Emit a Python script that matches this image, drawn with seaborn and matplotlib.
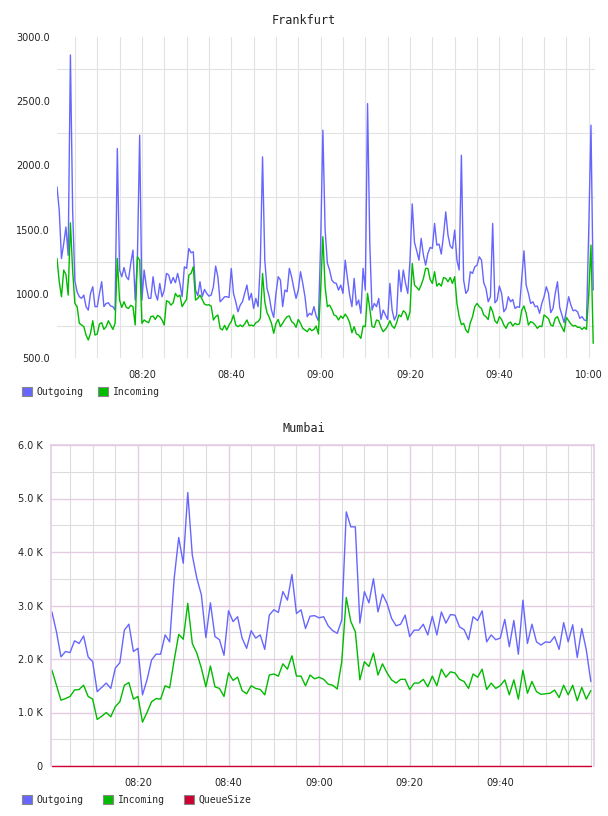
import numpy as np
import pandas as pd
import seaborn as sns
import matplotlib.pyplot as plt
from matplotlib.patches import Patch
from matplotlib.ticker import FixedLocator, MultipleLocator

# Frankfurt, one sample every 30 s starting 08:01
fra_outgoing = [
    1833, 1650, 1275, 1390, 1520, 1300, 2860, 1650, 1100, 1015,
    977, 965, 990, 900, 873, 1003, 1055, 900, 900, 1003,
    1094, 900, 925, 930, 905, 900, 873, 2131, 1185, 1133,
    1205, 1133, 1110, 1236, 1340, 951, 1288, 2235, 951, 1185,
    1055, 965, 965, 1133, 1003, 951, 1081, 977, 1029, 1159,
    1146, 1081, 1127, 1086, 1159, 1081, 977, 1210, 1198, 1353,
    1320, 1327, 1030, 985, 1094, 977, 1034, 1003, 982, 990,
    1055, 1216, 1133, 938, 956, 977, 977, 972, 1197, 1003,
    938, 860, 912, 938, 1003, 1068, 951, 1003, 886, 964,
    900, 1236, 2066, 1262, 1042, 977, 873, 816, 1003, 1133,
    1107, 900, 1029, 1016, 1198, 1133, 1042, 964, 1029, 1172,
    1081, 977, 822, 848, 835, 900, 827, 790, 1392, 2274,
    1500, 1240, 1185, 1107, 1086, 1081, 1029, 1068, 1003, 1262,
    1120, 990, 900, 1120, 912, 951, 848, 1198, 1029, 2481,
    1392, 873, 925, 900, 964, 800, 873, 835, 800, 1081,
    873, 796, 835, 1185, 1016, 1185, 1081, 1003, 1262, 1700,
    1400, 1335, 1262, 1431, 1301, 1223, 1314, 1361, 1353, 1548,
    1379, 1387, 1309, 1457, 1638, 1457, 1371, 1353, 1496, 1262,
    1185, 2079, 1107, 1003, 1029, 1172, 1159, 1210, 1223, 1288,
    1262, 1086, 1042, 938, 977, 1548, 930, 951, 1060, 1003,
    860, 886, 977, 938, 956, 886, 900, 894, 1120, 1335,
    1068, 1003, 925, 938, 900, 905, 848, 925, 977, 1055,
    1003, 853, 886, 1003, 1094, 894, 835, 775, 873, 977,
    912, 868, 873, 860, 809, 822, 796, 790, 1500, 2313,
    1029,
]
fra_incoming = [
    1275, 1094, 977, 1185, 1150, 990, 1553, 1180, 925, 900,
    770, 757, 744, 679, 640, 692, 790, 679, 687, 765,
    775, 723, 744, 790, 757, 723, 770, 1275, 951, 894,
    938, 894, 886, 910, 900, 757, 1288, 1262, 770, 796,
    783, 775, 822, 827, 800, 832, 822, 796, 757, 946,
    938, 912, 930, 1003, 977, 990, 900, 930, 956, 1146,
    1159, 1210, 951, 964, 990, 956, 920, 912, 915, 905,
    796, 822, 835, 731, 718, 754, 718, 757, 783, 835,
    757, 744, 757, 744, 765, 796, 752, 757, 749, 775,
    783, 809, 1158, 938, 853, 816, 770, 692, 770, 800,
    744, 770, 800, 822, 827, 783, 770, 739, 800, 770,
    731, 718, 705, 731, 713, 723, 749, 687, 1029, 1444,
    1055, 900, 912, 879, 835, 827, 796, 827, 809, 842,
    816, 775, 697, 744, 687, 679, 653, 749, 744, 1003,
    886, 744, 739, 796, 790, 739, 705, 723, 749, 790,
    749, 731, 775, 835, 822, 868, 853, 796, 860, 1236,
    1068, 1050, 1029, 1068, 1120, 1198, 1198, 1112, 1081, 1172,
    1060, 1081, 1060, 1127, 1120, 1094, 1127, 1081, 1133, 925,
    822, 760, 770, 718, 697, 775, 822, 900, 925, 900,
    886, 835, 822, 800, 900, 860, 790, 770, 822, 800,
    757, 731, 770, 780, 749, 770, 760, 765, 873, 905,
    848, 757, 783, 775, 757, 731, 749, 744, 835, 822,
    806, 757, 749, 809, 822, 775, 739, 705, 816, 790,
    765, 749, 754, 739, 739, 723, 739, 723, 1000, 1379,
    614,
]

# Mumbai, one sample per minute starting 08:01 (values in K)
mum_outgoing = [
    2.88, 2.51, 2.04, 2.14, 2.12, 2.34, 2.29, 2.43, 2.04, 1.95,
    1.39, 1.47, 1.55, 1.45, 1.83, 1.93, 2.54, 2.65, 2.14, 2.20,
    1.33, 1.61, 1.98, 2.09, 2.09, 2.45, 2.32, 3.51, 4.27, 3.79,
    5.11, 3.94, 3.51, 3.20, 2.40, 3.05, 2.42, 2.36, 2.07, 2.90,
    2.70, 2.79, 2.39, 2.20, 2.53, 2.39, 2.45, 2.18, 2.82, 2.92,
    2.87, 3.26, 3.10, 3.58, 2.85, 2.92, 2.57, 2.80, 2.81, 2.77,
    2.79, 2.62, 2.53, 2.48, 2.73, 4.75, 4.47, 4.47, 2.67, 3.26,
    3.05, 3.50, 2.88, 3.21, 3.04, 2.76, 2.62, 2.65, 2.82, 2.42,
    2.54, 2.54, 2.65, 2.45, 2.80, 2.45, 2.88, 2.67, 2.83, 2.82,
    2.60, 2.55, 2.36, 2.79, 2.72, 2.90, 2.32, 2.45, 2.36, 2.39,
    2.74, 2.23, 2.72, 2.09, 3.10, 2.29, 2.65, 2.32, 2.26, 2.32,
    2.31, 2.42, 2.18, 2.68, 2.32, 2.64, 2.03, 2.57, 2.17, 1.58,
]
mum_incoming = [
    1.79, 1.51, 1.23, 1.26, 1.30, 1.42, 1.43, 1.51, 1.30, 1.25,
    0.87, 0.93, 1.00, 0.92, 1.11, 1.20, 1.51, 1.56, 1.25, 1.30,
    0.82, 1.00, 1.20, 1.26, 1.25, 1.50, 1.46, 1.98, 2.46, 2.37,
    3.04, 2.29, 2.11, 1.83, 1.48, 1.87, 1.48, 1.45, 1.30, 1.74,
    1.60, 1.66, 1.41, 1.35, 1.50, 1.45, 1.43, 1.33, 1.70, 1.72,
    1.68, 1.91, 1.81, 2.06, 1.68, 1.68, 1.50, 1.70, 1.63, 1.66,
    1.62, 1.53, 1.51, 1.44, 1.95, 3.15, 2.70, 2.51, 1.61, 1.95,
    1.86, 2.11, 1.70, 1.91, 1.74, 1.61, 1.55, 1.62, 1.62, 1.43,
    1.55, 1.55, 1.62, 1.48, 1.68, 1.50, 1.81, 1.66, 1.76, 1.74,
    1.62, 1.58, 1.45, 1.72, 1.66, 1.81, 1.43, 1.55, 1.45, 1.50,
    1.61, 1.33, 1.61, 1.25, 1.79, 1.36, 1.58, 1.39, 1.34, 1.35,
    1.36, 1.42, 1.28, 1.51, 1.33, 1.51, 1.22, 1.47, 1.25, 1.41,
]
mum_queue = [0.0] * len(mum_outgoing)

# time axis, minutes after 08:00
time_ticks = [20, 40, 60, 80, 100, 120]
time_labels = ['08:20', '08:40', '09:00', '09:20', '09:40', '10:00']
fra_yticks = [500, 1000, 1500, 2000, 2500, 3000]
fra_ylabels = ['500.0', '1000.0', '1500.0', '2000.0', '2500.0', '3000.0']
fra_ygrid = [750, 1250, 1750, 2250, 2750]
mum_yticks = [0, 1, 2, 3, 4, 5, 6]
mum_ylabels = ['0', '1.0 K', '2.0 K', '3.0 K', '4.0 K', '5.0 K', '6.0 K']

BLUE = '#6666ff'
GREEN = '#00bb00'
RED = '#cc0033'
PINK = '#e4cce4'
GRID = '#e2e2e2'
MONO = {'family': 'DejaVu Sans Mono', 'size': 7}

fra = pd.DataFrame({
    'minute': 1 + 0.5 * np.arange(len(fra_outgoing)),
    'Outgoing': fra_outgoing,
    'Incoming': fra_incoming,
}).melt(id_vars='minute', var_name='series', value_name='value')

mum = pd.DataFrame({
    'minute': 1 + np.arange(len(mum_outgoing)),
    'Outgoing': mum_outgoing,
    'Incoming': mum_incoming,
    'QueueSize': mum_queue,
}).melt(id_vars='minute', var_name='series', value_name='value')

palette = {'Outgoing': BLUE, 'Incoming': GREEN, 'QueueSize': RED}

sns.set_style('white')
plt.rcParams['font.family'] = ['DejaVu Sans']

fig = plt.figure(figsize=(6.08, 8.16), dpi=100)
ax1 = fig.add_axes([57 / 608, 1 - 358 / 816, 538 / 608, 321 / 816])
ax2 = fig.add_axes([51 / 608, 1 - 766 / 816, 543 / 608, 321 / 816])

# --- Frankfurt ---
sns.lineplot(data=fra, x='minute', y='value', hue='series', palette=palette,
             ax=ax1, legend=False, linewidth=1.0, estimator=None)
ax1.set_xlim(1, 121.4)
ax1.set_ylim(500, 3000)
ax1.set_xticks(time_ticks, time_labels)
ax1.set_yticks(fra_yticks, fra_ylabels)
ax1.xaxis.set_minor_locator(MultipleLocator(5))
ax1.yaxis.set_minor_locator(FixedLocator(fra_ygrid))
ax1.set_axisbelow(True)
ax1.grid(axis='x', which='both', color=GRID, linewidth=0.8)
ax1.grid(axis='y', which='minor', color=GRID, linewidth=0.8)
ax1.grid(axis='y', which='major', visible=False)
for s in ax1.spines.values():
    s.set_visible(False)
ax1.tick_params(axis='both', which='both', length=0, labelsize=7, colors='#222222')
ax1.tick_params(axis='x', pad=9)
ax1.tick_params(axis='y', pad=5)
ax1.set_xlabel('')
ax1.set_ylabel('')

# --- Mumbai ---
sns.lineplot(data=mum, x='minute', y='value', hue='series', palette=palette,
             ax=ax2, legend=False, linewidth=1.0, estimator=None, clip_on=False)
ax2.set_xlim(0.8, 120.7)
ax2.set_ylim(0, 6)
ax2.set_xticks(time_ticks[:-1], time_labels[:-1])
ax2.set_yticks(mum_yticks, mum_ylabels)
ax2.xaxis.set_minor_locator(MultipleLocator(5))
ax2.yaxis.set_minor_locator(MultipleLocator(0.5))
ax2.set_axisbelow(True)
ax2.grid(which='minor', color='#dcdcdc', linewidth=0.8)
ax2.grid(which='major', color=PINK, linewidth=1.0)
for name, s in ax2.spines.items():
    s.set_visible(name != 'bottom')
    s.set_color(PINK)
    s.set_linewidth(1.2)
ax2.tick_params(axis='both', which='both', length=0, labelsize=7, colors='#222222')
ax2.tick_params(axis='x', pad=9)
ax2.tick_params(axis='y', pad=6)
ax2.set_xlabel('')
ax2.set_ylabel('')

# titles
fig.text(0.5, 1 - 20 / 816, 'Frankfurt', ha='center', va='center',
         family='DejaVu Sans Mono', size=8.5, color='#222222')
fig.text(0.5, 1 - 428 / 816, 'Mumbai', ha='center', va='center',
         family='DejaVu Sans Mono', size=8.5, color='#222222')

# legends
def legend_boxes(names):
    return [Patch(facecolor=palette[n], edgecolor='#888888', linewidth=0.8, label=n)
            for n in names]

fig.legend(handles=legend_boxes(['Outgoing', 'Incoming']), loc='center left',
           bbox_to_anchor=(22 / 608, 1 - 392 / 816), ncol=2, frameon=False, prop=MONO,
           handlelength=1.0, handleheight=1.0, handletextpad=0.5,
           columnspacing=1.5, borderpad=0, borderaxespad=0)
fig.legend(handles=legend_boxes(['Outgoing', 'Incoming', 'QueueSize']), loc='center left',
           bbox_to_anchor=(22 / 608, 1 - 800 / 816), ncol=3, frameon=False, prop=MONO,
           handlelength=1.0, handleheight=1.0, handletextpad=0.5,
           columnspacing=2.0, borderpad=0, borderaxespad=0)

fig.savefig('out.png', dpi=100)
